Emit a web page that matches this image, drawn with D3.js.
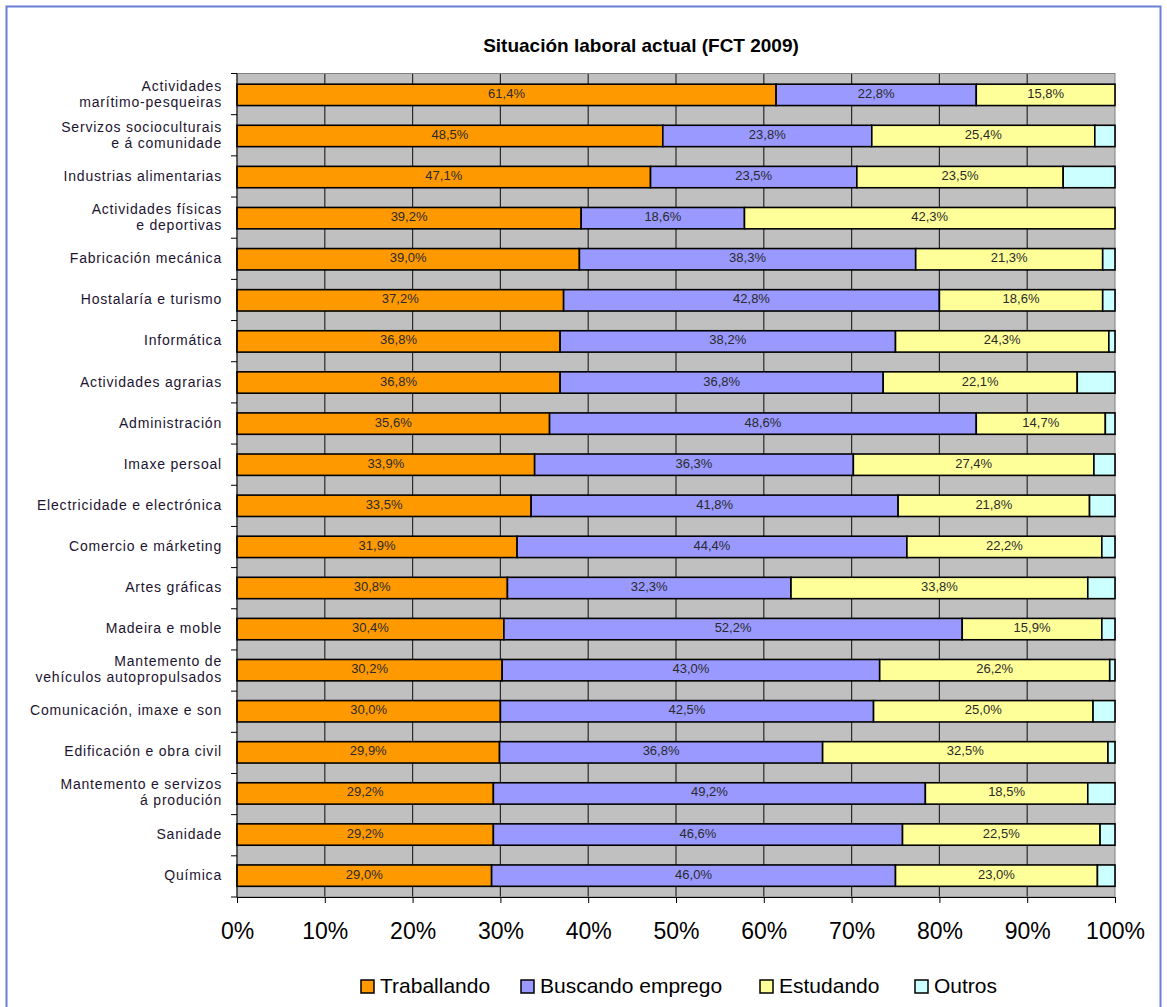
<!DOCTYPE html>
<html>
<head>
<meta charset="utf-8">
<script src="https://cdn.jsdelivr.net/npm/d3@7"></script>
<style>
  body { margin: 0; background: #fff; }
  svg { font-family: "Liberation Sans", Arial, sans-serif; }
</style>
</head>
<body>
<div id="chart"></div>
<script>
var categories = [
  ["Actividades", "marítimo-pesqueiras"],
  ["Servizos socioculturais", "e á comunidade"],
  ["Industrias alimentarias"],
  ["Actividades físicas", "e deportivas"],
  ["Fabricación mecánica"],
  ["Hostalaría e turismo"],
  ["Informática"],
  ["Actividades agrarias"],
  ["Administración"],
  ["Imaxe persoal"],
  ["Electricidade e electrónica"],
  ["Comercio e márketing"],
  ["Artes gráficas"],
  ["Madeira e moble"],
  ["Mantemento de", "vehículos autopropulsados"],
  ["Comunicación, imaxe e son"],
  ["Edificación e obra civil"],
  ["Mantemento e servizos", "á produción"],
  ["Sanidade"],
  ["Química"]
];
var traballando = [61.4, 48.5, 47.1, 39.2, 39.0, 37.2, 36.8, 36.8, 35.6, 33.9, 33.5, 31.9, 30.8, 30.4, 30.2, 30.0, 29.9, 29.2, 29.2, 29.0];
var buscando    = [22.8, 23.8, 23.5, 18.6, 38.3, 42.8, 38.2, 36.8, 48.6, 36.3, 41.8, 44.4, 32.3, 52.2, 43.0, 42.5, 36.8, 49.2, 46.6, 46.0];
var estudando   = [15.8, 25.4, 23.5, 42.3, 21.3, 18.6, 24.3, 22.1, 14.7, 27.4, 21.8, 22.2, 33.8, 15.9, 26.2, 25.0, 32.5, 18.5, 22.5, 23.0];
var outros      = [0.0, 2.3, 5.9, 0.0, 1.4, 1.4, 0.7, 4.3, 1.1, 2.4, 2.9, 1.5, 3.1, 1.5, 0.6, 2.5, 0.8, 3.1, 1.7, 2.0];
var seriesNames = ["Traballando", "Buscando emprego", "Estudando", "Outros"];
var xTicks = [0, 10, 20, 30, 40, 50, 60, 70, 80, 90, 100];

var colors = ["#ff9900", "#9999ff", "#ffff99", "#ccffff"];
var W = 1167, H = 1007;
var plotLeft = 237, plotRight = 1115, plotTop = 73.5, plotBottom = 897;

var rows = categories.map(function(c, i) {
  return { i: i, vals: [traballando[i], buscando[i], estudando[i], outros[i]] };
});

var svg = d3.select("#chart").append("svg")
  .attr("width", W).attr("height", H);

// outer frame
svg.append("rect")
  .attr("x", 6.5).attr("y", 6.5).attr("width", 1154).attr("height", 1010)
  .attr("fill", "none").attr("stroke", "#6b7fd7").attr("stroke-width", 2);

svg.append("text")
  .attr("x", 641).attr("y", 52)
  .attr("text-anchor", "middle")
  .style("font-size", "19px").style("font-weight", "bold")
  .text("Situación laboral actual (FCT 2009)");

var x = d3.scaleLinear().domain([0, 100]).range([plotLeft, plotRight]);
var y = d3.scaleBand().domain(d3.range(categories.length))
  .range([plotTop, plotBottom]).paddingInner(0.48).paddingOuter(0.26);

// plot background
svg.append("rect")
  .attr("x", plotLeft).attr("y", plotTop)
  .attr("width", plotRight - plotLeft).attr("height", plotBottom - plotTop)
  .attr("fill", "#c0c0c0");

// gridlines
svg.append("g").selectAll("line")
  .data(xTicks.slice(1, -1))
  .enter().append("line")
  .attr("x1", function(d) { return x(d); }).attr("x2", function(d) { return x(d); })
  .attr("y1", plotTop).attr("y2", plotBottom)
  .attr("stroke", "#2a2a2a").attr("stroke-width", 1.2);

// plot border
svg.append("rect")
  .attr("x", plotLeft).attr("y", plotTop)
  .attr("width", plotRight - plotLeft).attr("height", plotBottom - plotTop)
  .attr("fill", "none").attr("stroke", "#808080").attr("stroke-width", 1);

// stacked bars
var segs = [];
rows.forEach(function(r) {
  var acc = 0;
  r.vals.forEach(function(v, k) {
    segs.push({ i: r.i, k: k, v: v, x0: acc, x1: Math.min(100, acc + v) });
    acc += v;
  });
});

svg.append("g").selectAll("rect")
  .data(segs.filter(function(d) { return d.v > 0; }))
  .enter().append("rect")
  .attr("x", function(d) { return x(d.x0); })
  .attr("y", function(d) { return y(d.i); })
  .attr("width", function(d) { return x(d.x1) - x(d.x0); })
  .attr("height", y.bandwidth())
  .attr("fill", function(d) { return colors[d.k]; })
  .attr("stroke", "#000").attr("stroke-width", 1.6);

// value labels (first three series)
svg.append("g").selectAll("text")
  .data(segs.filter(function(d) { return d.k < 3; }))
  .enter().append("text")
  .attr("x", function(d) { return x((d.x0 + d.x1) / 2); })
  .attr("y", function(d) { return y(d.i) + y.bandwidth() / 2 + 3; })
  .attr("text-anchor", "middle")
  .style("font-size", "13px").style("fill", "#2a2a2a")
  .text(function(d) { return d.v.toFixed(1).replace(".", ",") + "%"; });

// y axis ticks (between categories)
var step = (plotBottom - plotTop) / categories.length;
svg.append("g").selectAll("line")
  .data(d3.range(categories.length + 1))
  .enter().append("line")
  .attr("x1", plotLeft - 6).attr("x2", plotLeft)
  .attr("y1", function(d) { return plotTop + d * step; })
  .attr("y2", function(d) { return plotTop + d * step; })
  .attr("stroke", "#000");
svg.append("line")
  .attr("x1", plotLeft).attr("x2", plotLeft).attr("y1", plotTop).attr("y2", plotBottom)
  .attr("stroke", "#000");

// category labels
var cat = svg.append("g").selectAll("text")
  .data(categories)
  .enter().append("text")
  .attr("text-anchor", "end")
  .attr("x", 222)
  .attr("y", function(d, i) { return y(i) + y.bandwidth() / 2 + 4 - (d.length - 1) * 8; })
  .style("font-size", "14px").style("fill", "#1c1430")
  .style("letter-spacing", "0.8px");
cat.selectAll("tspan")
  .data(function(d) { return d; })
  .enter().append("tspan")
  .attr("x", 222)
  .attr("dy", function(d, j) { return j === 0 ? 0 : 16; })
  .text(function(d) { return d; });

// x axis
var xAxis = svg.append("g")
  .attr("transform", "translate(0," + plotBottom + ")")
  .call(d3.axisBottom(x).tickValues(xTicks).tickSize(6).tickPadding(20)
    .tickFormat(function(d) { return d + "%"; }));
xAxis.select(".domain").attr("stroke", "#000");
xAxis.selectAll("text")
  .style("font-size", "23px").style("fill", "#000")
  .style("font-family", "Liberation Sans, Arial, sans-serif");

// legend
var legX = [361, 521, 760, 915];
var leg = svg.append("g").selectAll("g")
  .data(seriesNames)
  .enter().append("g")
  .attr("transform", function(d, i) { return "translate(" + legX[i] + ",980)"; });
leg.append("rect")
  .attr("width", 13).attr("height", 13)
  .attr("fill", function(d, i) { return colors[i]; })
  .attr("stroke", "#000").attr("stroke-width", 1.5);
leg.append("text")
  .attr("x", 19).attr("y", 13)
  .style("font-size", "21px").style("fill", "#000")
  .text(function(d) { return d; });
</script>
</body>
</html>
